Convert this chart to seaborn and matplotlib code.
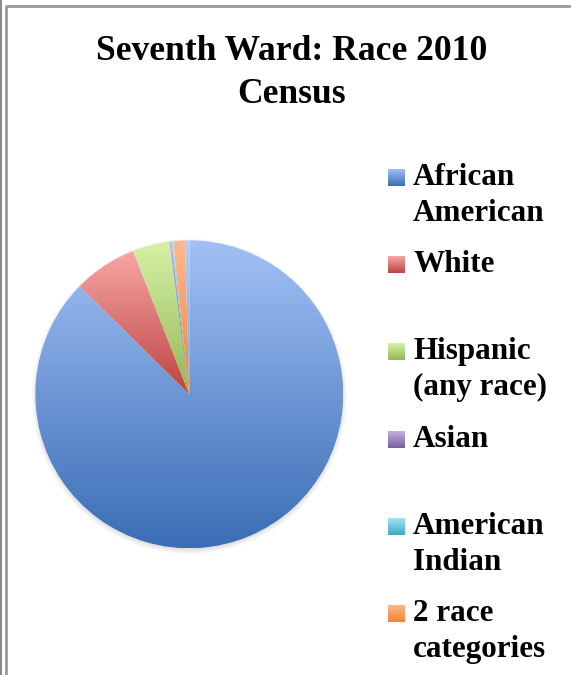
import numpy as np
import matplotlib
matplotlib.use('Agg')
import matplotlib.pyplot as plt
import seaborn as sns

# data (percent of population)
groups = ['African\nAmerican', 'White', 'Hispanic\n(any race)', 'Asian',
          'American\nIndian', '2 race\ncategories', 'Other']
shares = [87.4, 6.67, 3.87, 0.24, 0.17, 1.22, 0.45]
# light (top) / dark (bottom) colour of each slice gradient
light = ['#a2c0f6', '#f8a7a5', '#d5f2a6', '#c3b3de', '#9de6f8', '#fcb98f', '#b5cdf7']
dark = ['#3a6db5', '#bb4441', '#95b655', '#7a5ea0', '#3ea8c5', '#f4822f', '#7e9fd8']
legend_n = 6   # last slice has no legend entry in the original
title = 'Seventh Ward: Race 2010\nCensus'

sns.set_theme(style='white')
plt.rcParams['font.family'] = ['Liberation Serif', 'DejaVu Serif']

W, H = 571, 675
fig = plt.figure(figsize=(W / 100, H / 100), dpi=100)
fig.patch.set_facecolor('white')

# pie axes (pixel box of the pie in the reference)
cx, cy, r = 189.3, 394.3, 154
ax = fig.add_axes([(cx - r) / W, (H - cy - r) / H, 2 * r / W, 2 * r / H])
ax.set_xlim(-1, 1)
ax.set_ylim(-1, 1)
ax.axis('off')

# soft shadow, mostly below the pie
for k in range(5):
    sh = plt.Circle((0.0, -0.014), 0.995 + 0.007 * k, color='#000000',
                    alpha=0.025, lw=0, clip_on=False, zorder=0)
    ax.add_patch(sh)
ax.add_patch(plt.Circle((0, 0), 1.0, color='white', lw=0, zorder=0.5))

wedges, _ = ax.pie(shares, startangle=90, counterclock=False, radius=1,
                   colors=dark, wedgeprops=dict(lw=0))
grad = np.linspace(0, 1, 256).reshape(-1, 1)
for w, c1, c2 in zip(wedges, light, dark):
    w.set_zorder(1)
    w.set_facecolor('none')
    bb = w.get_path().get_extents()
    cmap = sns.blend_palette([c1, c2], as_cmap=True)
    im = ax.imshow(grad, cmap=cmap, aspect='auto', origin='upper',
                   extent=[bb.x0, bb.x1, bb.y0, bb.y1], zorder=1,
                   interpolation='bilinear')
    im.set_clip_path(w)
ax.set_xlim(-1, 1)
ax.set_ylim(-1, 1)

# overlay in pixel coordinates for title, legend, frame
ov = fig.add_axes([0, 0, 1, 1], zorder=5)
ov.set_xlim(0, W)
ov.set_ylim(H, 0)
ov.axis('off')
ov.patch.set_alpha(0)

# frame lines
ov.plot([1, 1], [0, H], color='#8c8c8c', lw=1.5)
ov.plot([5.5, 5.5, W], [H, 5.5, 5.5], color='#9a9a9a', lw=2)

# title
t_lines = title.split('\n')
for i, line in enumerate(t_lines):
    ov.text(292, 60 + i * 43, line, ha='center', va='baseline',
            fontsize=25.6, fontweight='bold', color='black')

# legend
for i in range(legend_n):
    top = 169 + 87.25 * i
    ov.imshow(grad, cmap=sns.blend_palette([light[i], dark[i]], as_cmap=True),
              aspect='auto', extent=[388, 405, top + 17, top],
              interpolation='bilinear', zorder=6)
    for j, line in enumerate(groups[i].split('\n')):
        ov.text(413, top + 16 + j * 36, line, ha='left', va='baseline',
                fontsize=22.4, fontweight='bold', color='black')
ov.set_xlim(0, W)
ov.set_ylim(H, 0)

fig.savefig('out.png', dpi=100)
